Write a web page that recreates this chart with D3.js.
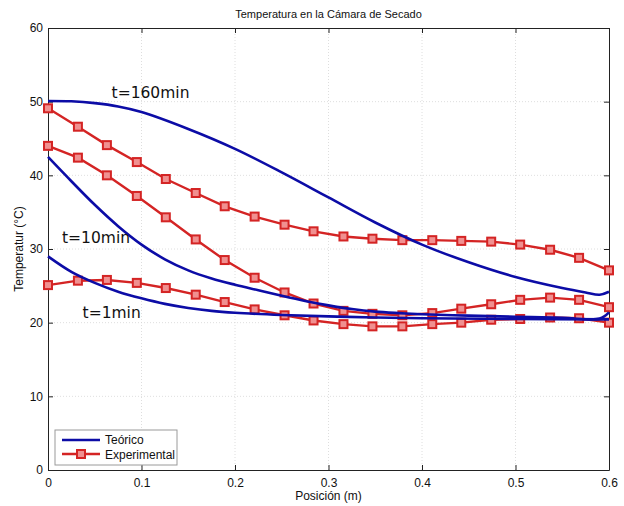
<!DOCTYPE html>
<html>
<head>
<meta charset="utf-8">
<script src="https://cdn.jsdelivr.net/npm/d3@7"></script>
<style>
    body { margin: 0; background: #fff; }
    svg { display: block; font-family: "Liberation Sans", Arial, sans-serif; }
    .axis path { stroke: #222; stroke-width: 1; }
    .axis line { stroke: #222; }
    .axis text { font-size: 12px; fill: #111; }
    .grid line { stroke: #d6d6d6; stroke-dasharray: 1,2; stroke-width: 0.8; }
    .teo { fill: none; stroke: #0c0ca6; stroke-width: 2.6; }
    .exp { fill: none; stroke: #d42424; stroke-width: 2.4; }
    .mk { fill: #f09090; stroke: #d42424; stroke-width: 2; }
    .lbl { font-family: "DejaVu Sans", Verdana, sans-serif; font-size: 15.5px; fill: #111; }
</style>
</head>
<body>
<svg id="chart" width="624" height="506"></svg>
<script>
// posiciones de los puntos medidos (m)
let posExp = [0, 0.032, 0.063, 0.095, 0.126, 0.158, 0.189, 0.221, 0.253, 0.284,
    0.316, 0.347, 0.379, 0.411, 0.442, 0.474, 0.505, 0.537, 0.568, 0.6];

// experimental (C)
let exp160 = [49.1, 46.6, 44.1, 41.8, 39.5, 37.6, 35.8, 34.4, 33.3, 32.4,
    31.7, 31.4, 31.2, 31.2, 31.1, 31.0, 30.6, 29.9, 28.8, 27.1];
let exp10 = [44.0, 42.4, 40.0, 37.2, 34.3, 31.3, 28.5, 26.1, 24.1, 22.6,
    21.6, 21.2, 21.0, 21.3, 21.9, 22.5, 23.1, 23.4, 23.1, 22.1];
let exp1 = [25.1, 25.7, 25.8, 25.4, 24.7, 23.8, 22.8, 21.8, 21.0, 20.3,
    19.8, 19.5, 19.5, 19.8, 20.0, 20.4, 20.5, 20.7, 20.6, 20.0];

// teorico
let posTeo160 = [0, 0.025, 0.05, 0.075, 0.1, 0.15, 0.2, 0.25, 0.3, 0.35, 0.4,
    0.45, 0.5, 0.55, 0.575, 0.59, 0.6];
let teo160 = [50.1, 50.05, 49.8, 49.35, 48.6, 46.3, 43.6, 40.4, 37.0, 33.6, 30.6,
    28.2, 26.2, 24.7, 24.1, 23.8, 24.2];

let posTeo10 = [0, 0.025, 0.05, 0.075, 0.1, 0.125, 0.15, 0.175, 0.2, 0.225, 0.25,
    0.275, 0.3, 0.325, 0.35, 0.375, 0.4, 0.45, 0.5, 0.55, 0.59, 0.6];
let teo10 = [42.5, 39.2, 36.0, 33.1, 30.6, 28.6, 27.1, 26.0, 25.15, 24.4, 23.65,
    22.95, 22.35, 21.85, 21.5, 21.3, 21.15, 20.95, 20.8, 20.65, 20.55, 21.4];

let posTeo1 = [0, 0.025, 0.05, 0.075, 0.1, 0.125, 0.15, 0.175, 0.2, 0.25, 0.3,
    0.35, 0.4, 0.5, 0.6];
let teo1 = [29.0, 26.9, 25.4, 24.2, 23.3, 22.55, 22.0, 21.6, 21.35, 21.05, 20.85,
    20.7, 20.6, 20.5, 20.45];

let xTicks = [0, 0.1, 0.2, 0.3, 0.4, 0.5, 0.6];
let yTicks = [0, 10, 20, 30, 40, 50, 60];

let curveLabels = ["t=160min", "t=10min", "t=1min"];
let legendNames = ["Teórico", "Experimental"];


let svg = d3.select("#chart"),
    margin = {top: 28, right: 15, bottom: 36, left: 48},
    width = +svg.attr("width") - margin.left - margin.right,
    height = +svg.attr("height") - margin.top - margin.bottom,
    g = svg.append("g").attr("transform", "translate(" + margin.left + "," + margin.top + ")");

let x = d3.scaleLinear().domain([0, 0.6]).range([0, width]);
let y = d3.scaleLinear().domain([0, 60]).range([height, 0]);

// rejilla punteada
g.append("g").attr("class", "grid")
    .selectAll("line").data(xTicks.slice(1, -1)).enter().append("line")
    .attr("x1", function (d) { return x(d); })
    .attr("x2", function (d) { return x(d); })
    .attr("y1", 0).attr("y2", height);
g.append("g").attr("class", "grid")
    .selectAll("line").data(yTicks.slice(1, -1)).enter().append("line")
    .attr("y1", function (d) { return y(d); })
    .attr("y2", function (d) { return y(d); })
    .attr("x1", 0).attr("x2", width);

// ejes (marcas hacia dentro, como matlab)
let fmtX = function (d) { return d === 0 ? "0" : d3.format(".1f")(d); };

g.append("g")
    .attr("class", "axis axis--x")
    .attr("transform", "translate(0," + height + ")")
    .call(d3.axisBottom(x).tickValues(xTicks).tickSize(-5).tickSizeOuter(0).tickPadding(8).tickFormat(fmtX));
g.append("g")
    .attr("class", "axis")
    .call(d3.axisTop(x).tickValues(xTicks).tickSize(-5).tickSizeOuter(0).tickFormat(""));
g.append("g")
    .attr("class", "axis axis--y")
    .call(d3.axisLeft(y).tickValues(yTicks).tickSize(-5).tickSizeOuter(0).tickPadding(5));
g.append("g")
    .attr("class", "axis")
    .attr("transform", "translate(" + width + ",0)")
    .call(d3.axisRight(y).tickValues(yTicks).tickSize(-5).tickSizeOuter(0).tickFormat(""));

let line = d3.line()
    .x(function (d) { return x(d[0]); })
    .y(function (d) { return y(d[1]); });
let smooth = d3.line()
    .curve(d3.curveCatmullRom)
    .x(function (d) { return x(d[0]); })
    .y(function (d) { return y(d[1]); });

// series experimentales
[exp160, exp10, exp1].forEach(function (serie) {
    let pts = d3.zip(posExp, serie);
    g.append("path").datum(pts).attr("class", "exp").attr("d", line);
    g.selectAll(null).data(pts).enter().append("rect")
        .attr("class", "mk")
        .attr("x", function (d) { return x(d[0]) - 4; })
        .attr("y", function (d) { return y(d[1]) - 4; })
        .attr("width", 8).attr("height", 8);
});

// curvas teoricas
[[posTeo160, teo160], [posTeo10, teo10], [posTeo1, teo1]].forEach(function (c) {
    g.append("path").datum(d3.zip(c[0], c[1])).attr("class", "teo").attr("d", smooth);
});

// etiquetas de tiempo
let labelPos = [[0.068, 50.5], [0.015, 30.8], [0.037, 20.6]];
curveLabels.forEach(function (t, i) {
    g.append("text").attr("class", "lbl")
        .attr("x", x(labelPos[i][0]))
        .attr("y", y(labelPos[i][1]))
        .text(t);
});

// leyenda
let lg = g.append("g").attr("transform", "translate(7,402)");
lg.append("rect")
    .attr("width", 122).attr("height", 35)
    .attr("fill", "#fff").attr("stroke", "#9a9a9a").attr("stroke-width", 1);
lg.append("line").attr("class", "teo").attr("x1", 7).attr("x2", 45).attr("y1", 10).attr("y2", 10);
lg.append("line").attr("class", "exp").attr("x1", 7).attr("x2", 45).attr("y1", 24).attr("y2", 24);
lg.append("rect").attr("class", "mk").attr("x", 22).attr("y", 20).attr("width", 8).attr("height", 8);
legendNames.forEach(function (n, i) {
    lg.append("text")
        .attr("x", 50).attr("y", 14 + i * 14.5)
        .style("font-size", "12px").attr("fill", "#111")
        .text(n);
});

// titulos
svg.append("text")
    .attr("x", margin.left + width / 2).attr("y", 18)
    .attr("text-anchor", "middle").style("font-size", "11px").attr("fill", "#111")
    .text("Temperatura en la Cámara de Secado");
svg.append("text")
    .attr("x", margin.left + width / 2).attr("y", 500)
    .attr("text-anchor", "middle").style("font-size", "12px").attr("fill", "#111")
    .text("Posición (m)");
svg.append("text")
    .attr("transform", "translate(23," + (margin.top + height / 2) + ") rotate(-90)")
    .attr("text-anchor", "middle").style("font-size", "12px").attr("fill", "#111")
    .text("Temperatur (°C)");
</script>
</body>
</html>
